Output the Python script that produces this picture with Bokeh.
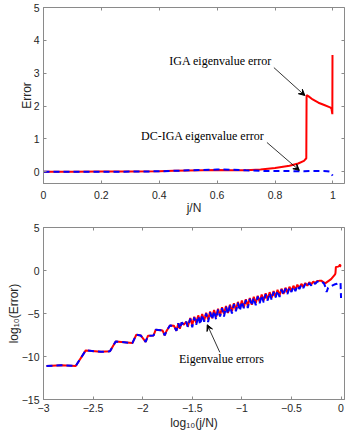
from bokeh.plotting import figure
from bokeh.models import Range1d, LinearAxis, Arrow, VeeHead, Label, FixedTicker, CustomJSTickFormatter
from bokeh.layouts import column
from bokeh.embed import file_html
from bokeh.resources import INLINE

# ---------------- data: top panel (Error vs j/N) ----------------
top_x_iga = [0.0, 0.1, 0.2, 0.3, 0.4, 0.45, 0.5, 0.55, 0.6, 0.65, 0.7, 0.75, 0.8, 0.85,
             0.88, 0.9, 0.908, 0.909, 0.915, 0.93, 0.95, 0.97, 0.99, 0.995, 0.998, 0.9985]
top_y_iga = [0.0, 0.0, 0.002, 0.006, 0.015, 0.025, 0.035, 0.045, 0.05, 0.045, 0.045, 0.065, 0.11, 0.18,
             0.25, 0.33, 0.41, 2.33, 2.3, 2.2, 2.1, 2.03, 1.96, 1.92, 1.75, 3.55]

top_x_dc = [0.0, 0.1, 0.2, 0.3, 0.4, 0.5, 0.55, 0.6, 0.65, 0.7, 0.75, 0.8, 0.9, 0.95, 0.98, 0.99, 0.995, 0.999]
top_y_dc = [0.0, 0.0, 0.0, 0.002, 0.012, 0.04, 0.05, 0.065, 0.06, 0.04, 0.025, 0.02, 0.015, 0.02, 0.015, 0.0, -0.06, -0.12]

top_xticks = [0, 0.2, 0.4, 0.6, 0.8, 1]
top_yticks = [0, 1, 2, 3, 4, 5]

# ---------------- data: bottom panel (log10 Error vs log10 j/N) ----------------
stair_x = [-2.97, -2.82, -2.675, -2.574, -2.42, -2.33, -2.272, -2.104, -2.064, -2.02, -1.97, -1.947,
           -1.89, -1.869, -1.80, -1.778, -1.758, -1.725, -1.685, -1.66, -1.64, -1.625, -1.607, -1.584,
           -1.56, -1.545]
stair_y = [-11.1, -11.02, -11.1, -9.29, -9.45, -9.4, -8.25, -8.44, -7.47, -7.55, -8.3, -7.59,
           -7.55, -6.9, -6.97, -7.55, -7.0, -6.39, -6.43, -7.0, -6.12, -6.78, -6.05, -6.3,
           -5.95, -6.55]

dense_x = [-1.52, -1.50, -1.48, -1.46, -1.44, -1.42, -1.40, -1.38, -1.36, -1.34, -1.32, -1.30,
           -1.28, -1.26, -1.24, -1.22, -1.20, -1.18, -1.16, -1.14, -1.12, -1.10, -1.08, -1.06,
           -1.04, -1.02, -1.00, -0.98, -0.96, -0.94, -0.92, -0.90, -0.88, -0.86, -0.84, -0.82,
           -0.80, -0.78, -0.76, -0.74, -0.72, -0.70, -0.68, -0.66, -0.64, -0.62, -0.60, -0.58,
           -0.56, -0.54, -0.52, -0.50, -0.48, -0.46, -0.44, -0.42, -0.40, -0.38, -0.36, -0.34,
           -0.32, -0.30, -0.28, -0.26, -0.24]
dense_red = [-5.52, -6.35, -5.37, -6.10, -5.22, -6.00, -5.06, -5.85, -4.91, -5.70, -4.76, -5.55,
             -4.60, -5.40, -4.44, -5.25, -4.28, -5.05, -4.13, -4.95, -3.97, -4.75, -3.81, -4.62,
             -3.65, -4.45, -3.50, -4.30, -3.34, -4.12, -3.20, -3.98, -3.06, -3.80, -2.93, -3.66,
             -2.79, -3.50, -2.66, -3.36, -2.52, -3.20, -2.39, -3.05, -2.25, -2.90, -2.12, -2.72,
             -2.00, -2.56, -1.89, -2.40, -1.77, -2.22, -1.65, -2.05, -1.56, -1.90, -1.46, -1.76,
             -1.37, -1.62, -1.28, -1.45, -1.21]
dense_blue = [-5.62, -6.60, -5.47, -6.30, -5.32, -6.29, -5.16, -5.95, -5.01, -5.98, -4.86, -5.70,
              -4.70, -5.67, -4.54, -5.35, -4.38, -5.34, -4.23, -5.05, -4.07, -5.01, -3.91, -4.75,
              -3.75, -4.69, -3.60, -4.40, -3.44, -4.36, -3.30, -4.10, -3.16, -4.04, -3.03, -3.80,
              -2.89, -3.72, -2.76, -3.50, -2.62, -3.41, -2.49, -3.15, -2.35, -3.09, -2.22, -2.85,
              -2.10, -2.74, -1.99, -2.50, -1.87, -2.39, -1.75, -2.15, -1.66, -2.04, -1.56, -1.85,
              -1.47, -1.75, -1.38, -1.55, -1.30]

end_x_red = [-0.22, -0.20, -0.17, -0.16, -0.10, -0.06, -0.056, -0.052, -0.03, -0.02, -0.01, -0.005, 0.0]
end_y_red = [-1.20, -1.18, -1.40, -1.50, -1.00, -0.45, -0.30, 0.40, 0.45, 0.50, 0.70, 0.50, 0.45]
end_x_blue = [-0.22, -0.20, -0.17, -0.155, -0.145, -0.13, -0.12, -0.10, -0.08, -0.06, -0.04, -0.02, -0.005, 0.0]
end_y_blue = [-1.25, -1.22, -1.55, -2.00, -2.50, -2.00, -1.90, -1.85, -1.70, -1.60, -1.55, -1.45, -1.40, -3.20]

bot_xticks = [-3, -2.5, -2, -1.5, -1, -0.5, 0]
bot_yticks = [-15, -10, -5, 0, 5]

# annotation anchors (data coordinates)
ann_iga = dict(text="IGA eigenvalue error", tx=0.612, ty=3.37, x0=0.796, y0=3.17, x1=0.903, y1=2.32)
ann_dc = dict(text="DC-IGA eigenvalue error", tx=0.55, ty=1.075, x0=0.772, y0=0.89, x1=0.884, y1=0.04)
ann_bot = dict(text="Eigenvalue errors", tx=-1.205, ty=-10.29, x0=-1.222, y0=-9.52, x1=-1.349, y1=-6.31)

RED = "#ff0000"
BLUE = "#0000ff"
AXC = "#8a8a8a"
TXC = "#262626"
SANS = "Liberation Sans"
SERIF = "Liberation Serif"


def style(p, xticks, yticks, xlabel, ylabel, xl_std, xa_std, yl_std, ya_std):
    p.outline_line_color = AXC
    p.grid.visible = False
    for ax, ticks, lab, lstd, astd in ((p.below[0], xticks, xlabel, xl_std, xa_std),
                                      (p.left[0], yticks, ylabel, yl_std, ya_std)):
        ax.ticker = FixedTicker(ticks=ticks)
        ax.axis_line_color = AXC
        ax.major_tick_line_color = AXC
        ax.major_tick_in = 3
        ax.major_tick_out = 0
        ax.minor_tick_line_color = None
        ax.major_label_text_font = SANS
        ax.major_label_text_font_size = "10.5px"
        ax.major_label_text_color = TXC
        ax.major_label_standoff = lstd
        ax.axis_label = lab
        ax.axis_label_standoff = astd
        ax.axis_label_text_font = SANS
        ax.axis_label_text_font_size = "12px"
        ax.axis_label_text_font_style = "normal"
        ax.axis_label_text_color = TXC
    # box ticks on top and right (no labels)
    for loc, ticks in (("above", xticks), ("right", yticks)):
        ax = LinearAxis(ticker=FixedTicker(ticks=ticks),
                        formatter=CustomJSTickFormatter(code="return ''"))
        ax.axis_line_color = None
        ax.major_tick_line_color = AXC
        ax.major_tick_in = 3
        ax.major_tick_out = 0
        ax.minor_tick_line_color = None
        ax.major_label_standoff = 0
        p.add_layout(ax, loc)


def annotate(p, a, size="12px"):
    p.add_layout(Arrow(end=VeeHead(size=6, fill_color="black", line_color="black", line_width=1),
                       x_start=a["x0"], y_start=a["y0"], x_end=a["x1"], y_end=a["y1"],
                       line_color="black", line_width=0.8))
    p.add_layout(Label(x=a["tx"], y=a["ty"], text=a["text"], text_font=SERIF, text_font_size=size,
                       text_align="center", text_baseline="middle", text_color="black"))


# ---------------- top figure ----------------
p1 = figure(width=346, height=217, output_backend="svg", toolbar_location=None,
            x_range=Range1d(0, 1.04), y_range=Range1d(-0.36, 5),
            min_border_left=36, min_border_right=2, min_border_top=7, min_border_bottom=32)
style(p1, top_xticks, top_yticks, "j/N", "Error", 7, -1, 4, -3)
p1.line(top_x_iga, top_y_iga, line_color=RED, line_width=2)
p1.line(top_x_dc, top_y_dc, line_color=BLUE, line_width=2, line_dash="6 4")
annotate(p1, ann_iga)
annotate(p1, ann_dc)

# ---------------- bottom figure ----------------
bx_red = stair_x + dense_x + end_x_red
by_red = stair_y + dense_red + end_y_red
bx_blue = stair_x + dense_x + end_x_blue
by_blue = stair_y + dense_blue + end_y_blue

p2 = figure(width=346, height=215, output_backend="svg", toolbar_location=None,
            x_range=Range1d(-3, 0.035), y_range=Range1d(-15, 5),
            min_border_left=43, min_border_right=2, min_border_top=10, min_border_bottom=32)
style(p2, bot_xticks, bot_yticks, "log\u2081\u2080(j/N)", "log\u2081\u2080(Error)", 4, 1, 4, -2)
p2.line(bx_red, by_red, line_color=RED, line_width=2)
p2.line(bx_blue, by_blue, line_color=BLUE, line_width=2, line_dash="6 4")
annotate(p2, ann_bot)

layout = column(p1, p2, spacing=0)
open("out.html", "w").write(file_html(layout, INLINE))
